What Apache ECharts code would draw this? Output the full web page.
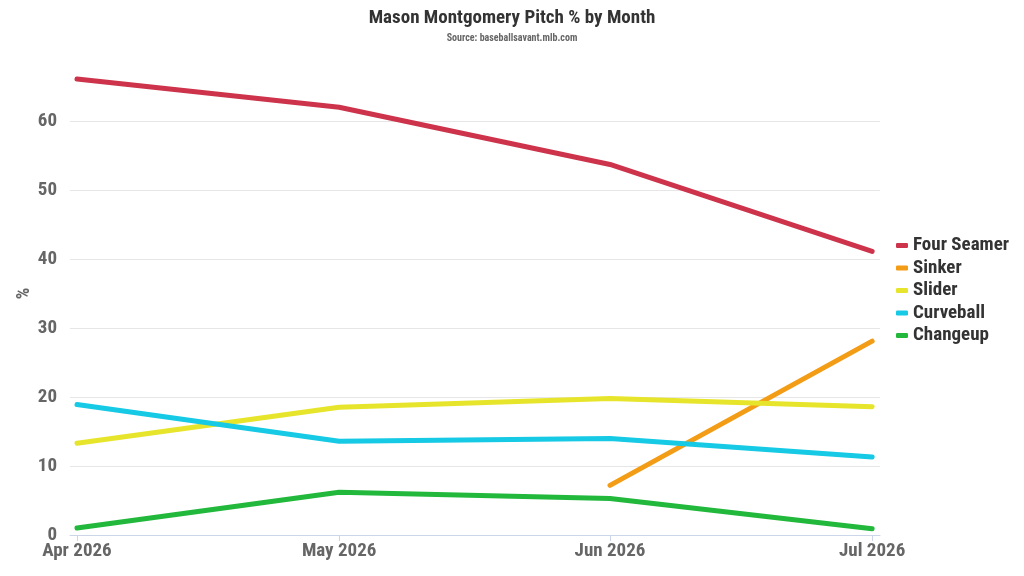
<!DOCTYPE html>
<html lang="en">
<head>
    <meta charset="UTF-8">
    <title>Mason Montgomery Pitch % by Month</title>
    <script src="https://cdn.jsdelivr.net/npm/echarts@6/dist/echarts.min.js"></script>
    <style>
        html, body {margin: 0; padding: 0; background: #fff;}
        #chart {width: 1024px; height: 576px;}
    </style>
</head>
<body>
<div id="chart"></div>
<script type="application/javascript">
    var monthLabels = ['Apr 2026', 'May 2026', 'Jun 2026', 'Jul 2026'];
    var monthDay = [0, 30, 61, 91]; // days since Apr 1
    var pitchNames = ['Four Seamer', 'Sinker', 'Slider', 'Curveball', 'Changeup'];
    var fourSeamer = [66.1, 62.0, 53.7, 41.1];
    var sinker = [null, null, 7.2, 28.1];
    var slider = [13.3, 18.5, 19.8, 18.6];
    var curveball = [18.9, 13.6, 14.0, 11.3];
    var changeup = [1.0, 6.2, 5.3, 0.9];

    var colors = ['#cd334b', '#f39c15', '#e7e52b', '#16c9e4', '#22b83c'];
    var font = "'Roboto Condensed', Roboto, sans-serif";

    function pairs(values) {
        return values.map(function (v, i) {
            return [monthDay[i], v];
        }).filter(function (d) {
            return d[1] != null;
        });
    }

    var allValues = [fourSeamer, sinker, slider, curveball, changeup];

    var chart = echarts.init(document.getElementById('chart'));
    var option = {
        backgroundColor: '#fff',
        color: colors,
        animation: false,
        title: {
            text: 'Mason Montgomery Pitch % by Month',
            subtext: 'Source: baseballsavant.mlb.com',
            left: 'center',
            top: 4,
            itemGap: 5,
            textStyle: {fontFamily: font, fontSize: 19, fontWeight: 'bold', color: '#333'},
            subtextStyle: {fontFamily: font, fontSize: 10, fontWeight: 'bold', color: '#666'}
        },
        legend: {
            orient: 'vertical',
            left: 891,
            top: 231,
            icon: 'roundRect',
            itemWidth: 12,
            itemHeight: 5,
            itemGap: 3.5,
            textStyle: {fontFamily: font, fontSize: 19, fontWeight: 'bold', color: '#333', lineHeight: 19},
            data: pitchNames
        },
        grid: {left: 70, right: 144, top: 52, bottom: 41},
        xAxis: {
            type: 'value',
            min: -0.8,
            max: 91.9,
            axisLine: {show: true, onZero: false, lineStyle: {color: '#ccd6eb'}},
            axisTick: {show: true, length: 6, lineStyle: {color: '#ccd6eb'}, customValues: monthDay},
            splitLine: {show: false},
            axisLabel: {
                customValues: monthDay,
                fontFamily: font,
                fontSize: 19,
                fontWeight: 'bold',
                color: '#666',
                margin: 7,
                formatter: function (v) {
                    var i = monthDay.indexOf(Math.round(v));
                    return i >= 0 ? monthLabels[i] : '';
                }
            }
        },
        yAxis: {
            type: 'value',
            min: 0,
            max: 70,
            interval: 10,
            name: '%',
            nameLocation: 'middle',
            nameGap: 37,
            nameRotate: 90,
            nameMoveOverlap: false,
            nameTextStyle: {fontFamily: font, fontSize: 18, fontWeight: 'bold', color: '#666'},
            axisLine: {show: false},
            axisTick: {show: false},
            splitLine: {showMaxLine: false, lineStyle: {color: '#e6e6e6'}},
            axisLabel: {
                showMaxLabel: false,
                fontFamily: font,
                fontSize: 19,
                fontWeight: 'bold',
                color: '#666',
                margin: 13
            }
        },
        series: pitchNames.map(function (name, i) {
            return {
                name: name,
                type: 'line',
                data: pairs(allValues[i]),
                showSymbol: false,
                symbol: 'none',
                lineStyle: {width: 5, cap: 'round', join: 'round'}
            };
        })
    };
    chart.setOption(option);
</script>
</body>
</html>
